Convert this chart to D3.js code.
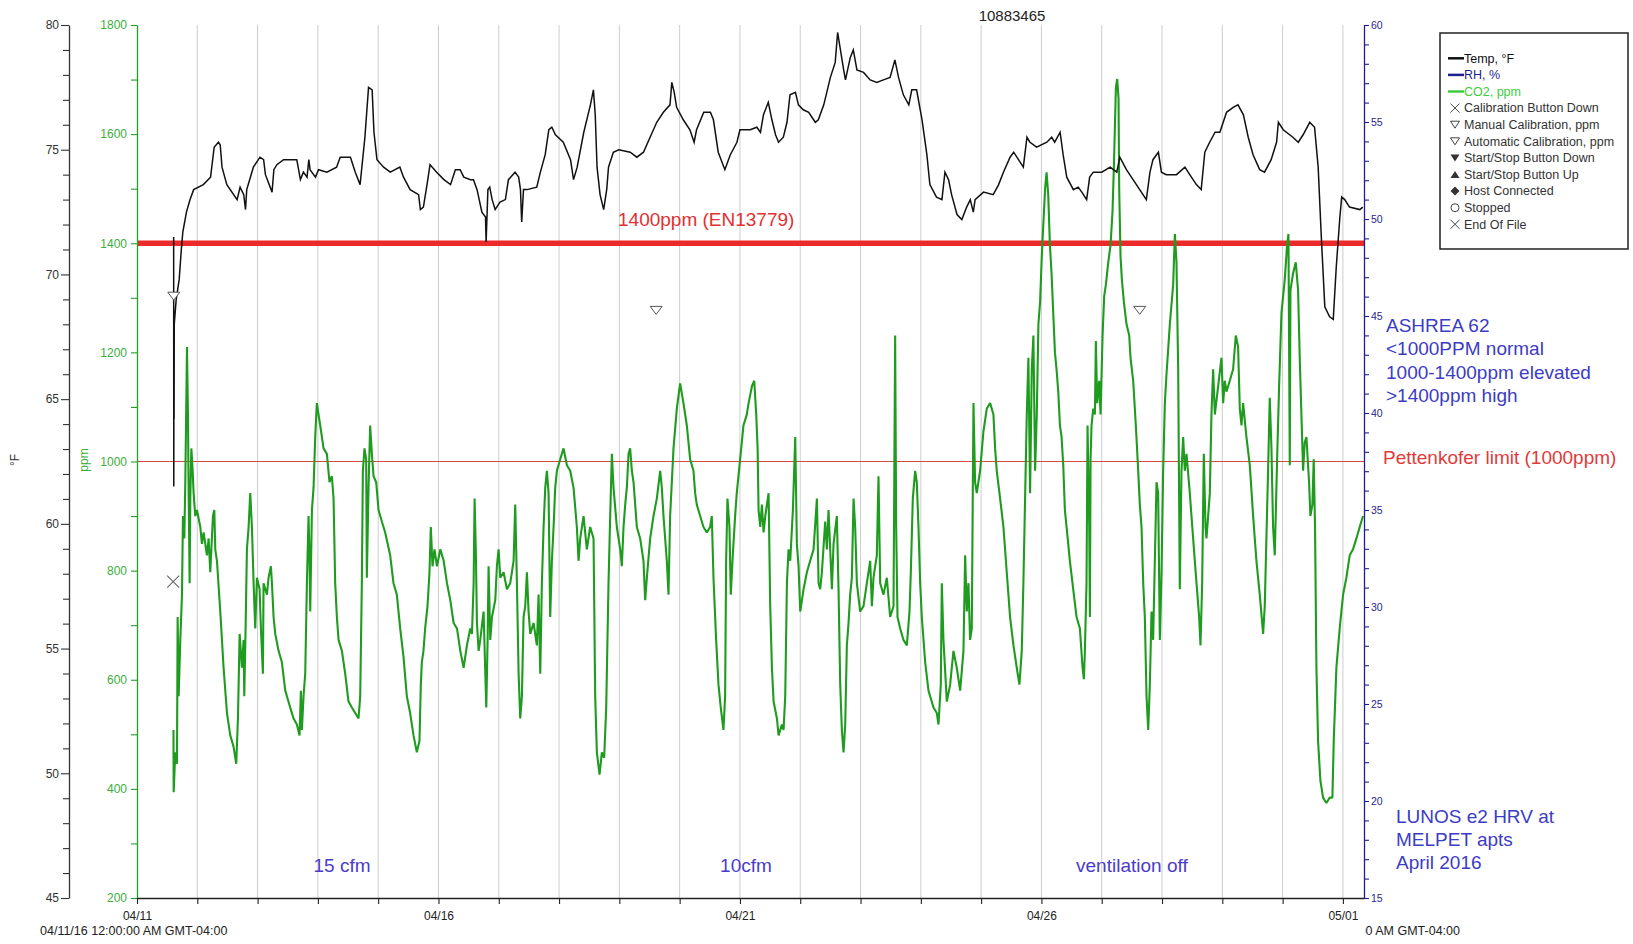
<!DOCTYPE html>
<html>
<head>
<meta charset="utf-8">
<script src="https://cdn.jsdelivr.net/npm/d3@7"></script>
<style>
  html, body { margin: 0; padding: 0; background: #fff; }
  svg { display: block; font-family: "Liberation Sans", Arial, Helvetica, sans-serif; }
</style>
</head>
<body>
<svg id="chart" width="1633" height="944"></svg>
<script>
// ---- logger data (time in days since 04/11/16 00:00) ----
const loggerSerial = "10883465";
const startDate = new Date(Date.UTC(2016, 3, 11, 0, 0, 0));
const endDay = 20.35;

// Temperature, °F
const tempReadings = [
  [0.608,71.5],[0.610,61.5],[0.613,68.0],[0.615,64.2],[0.618,68.0],[0.650,69.0],[0.700,69.8],[0.735,71.0],[0.760,71.7],[0.820,72.5],
  [0.880,73.0],[0.940,73.4],[1.10,73.6],[1.22,73.9],[1.28,75.1],[1.35,75.3],[1.38,75.2],[1.41,74.3],[1.49,73.6],[1.66,73.0],
  [1.71,73.5],[1.77,73.2],[1.80,72.6],[1.82,73.4],[1.93,74.3],[2.04,74.7],[2.10,74.6],[2.13,74.0],[2.24,73.3],[2.27,74.2],
  [2.32,74.4],[2.43,74.6],[2.65,74.6],[2.71,73.8],[2.76,74.1],[2.82,73.9],[2.85,74.6],[2.87,74.2],[2.96,73.9],[3.01,74.2],
  [3.15,74.1],[3.31,74.3],[3.37,74.7],[3.54,74.7],[3.62,74.1],[3.70,73.6],[3.78,75.5],[3.84,77.5],[3.90,77.4],[3.93,75.7],
  [3.98,74.6],[4.09,74.3],[4.20,74.1],[4.36,74.3],[4.42,73.9],[4.53,73.4],[4.67,73.2],[4.70,72.6],[4.75,72.7],[4.81,73.6],
  [4.86,74.4],[4.97,74.1],[5.09,73.8],[5.20,73.6],[5.28,74.2],[5.36,74.2],[5.42,73.9],[5.53,73.8],[5.58,73.8],[5.64,73.4],
  [5.72,72.5],[5.78,72.3],[5.79,71.3],[5.82,73.4],[5.85,73.5],[5.89,73.0],[5.94,72.6],[6.02,72.9],[6.11,73.0],[6.16,73.8],
  [6.27,74.1],[6.33,73.9],[6.36,73.4],[6.38,72.1],[6.41,73.4],[6.47,73.4],[6.63,73.5],[6.69,74.1],[6.77,74.8],[6.83,75.8],
  [6.88,75.9],[6.94,75.6],[7.07,75.3],[7.19,74.6],[7.24,73.8],[7.30,74.3],[7.41,75.7],[7.52,76.8],[7.57,77.4],[7.60,76.4],
  [7.63,74.3],[7.68,73.2],[7.74,72.6],[7.79,73.4],[7.82,74.3],[7.90,74.9],[7.99,75.0],[8.18,74.9],[8.29,74.7],[8.40,74.9],
  [8.51,75.5],[8.62,76.1],[8.73,76.5],[8.84,76.8],[8.87,77.7],[8.91,77.3],[8.95,76.7],[9.06,76.2],[9.17,75.8],[9.24,75.3],
  [9.28,75.8],[9.40,76.5],[9.51,76.5],[9.56,76.2],[9.64,74.9],[9.75,74.2],[9.84,74.8],[9.95,75.3],[10.00,75.8],[10.06,75.8],
  [10.17,75.8],[10.28,75.9],[10.34,75.7],[10.39,76.4],[10.47,76.9],[10.53,76.2],[10.59,75.6],[10.64,75.3],[10.72,75.5],[10.78,76.1],
  [10.83,77.2],[10.92,77.3],[10.97,76.8],[11.05,76.6],[11.14,76.5],[11.25,76.1],[11.30,76.2],[11.39,76.8],[11.50,77.9],[11.58,78.5],
  [11.62,79.7],[11.66,79.1],[11.72,78.2],[11.75,77.8],[11.83,78.7],[11.88,79.0],[11.94,78.2],[12.05,78.1],[12.16,77.8],[12.27,77.7],
  [12.38,77.8],[12.49,77.9],[12.57,78.6],[12.63,77.9],[12.71,77.2],[12.80,76.8],[12.85,77.4],[12.93,77.4],[13.02,76.2],[13.10,74.8],
  [13.15,73.6],[13.26,73.1],[13.35,73.0],[13.40,74.1],[13.46,73.8],[13.51,73.2],[13.60,72.4],[13.68,72.2],[13.76,72.7],[13.82,73.0],
  [13.87,72.5],[13.90,73.0],[14.04,73.3],[14.20,73.2],[14.29,73.6],[14.37,74.1],[14.48,74.7],[14.54,74.9],[14.62,74.6],[14.70,74.3],
  [14.76,75.5],[14.81,75.3],[14.92,75.1],[15.09,75.3],[15.17,75.5],[15.22,75.3],[15.31,75.7],[15.36,74.8],[15.42,73.9],[15.53,73.4],
  [15.61,73.5],[15.67,73.3],[15.75,73.0],[15.80,73.9],[15.86,74.1],[16.00,74.1],[16.14,74.3],[16.25,74.1],[16.30,74.7],[16.41,74.2],
  [16.52,73.8],[16.63,73.4],[16.74,73.0],[16.80,74.1],[16.85,74.6],[16.94,74.9],[16.99,74.1],[17.07,74.0],[17.24,74.0],[17.38,74.3],
  [17.46,74.0],[17.57,73.6],[17.65,73.4],[17.71,74.9],[17.79,75.3],[17.88,75.7],[17.96,75.7],[18.07,76.5],[18.18,76.7],[18.26,76.8],
  [18.35,76.4],[18.43,75.5],[18.51,74.8],[18.62,74.2],[18.70,74.1],[18.81,74.6],[18.90,75.3],[18.93,76.1],[19.01,75.8],[19.17,75.5],
  [19.26,75.3],[19.34,75.6],[19.45,76.1],[19.53,75.9],[19.59,74.3],[19.64,71.6],[19.70,68.7],[19.78,68.3],[19.84,68.2],[19.89,70.3],
  [19.95,72.3],[19.98,73.1],[20.03,73.0],[20.11,72.7],[20.28,72.6],[20.33,72.7]
];

// CO2, ppm
const co2Readings = [
  [0.605,508],[0.608,394],[0.635,467],[0.663,446],[0.674,715],[0.691,570],[0.718,673],[0.746,756],[0.762,900],[0.785,859],
  [0.801,962],[0.829,1210],[0.845,1086],[0.856,952],[0.873,777],[0.884,932],[0.901,1024],[0.923,983],[0.939,942],[0.967,900],
  [0.994,911],[1.050,880],[1.077,849],[1.105,870],[1.160,828],[1.188,859],[1.215,797],[1.260,900],[1.282,911],[1.298,839],
  [1.326,818],[1.381,725],[1.436,622],[1.492,539],[1.547,498],[1.602,477],[1.646,446],[1.674,529],[1.702,684],[1.740,622],
  [1.768,673],[1.779,570],[1.801,694],[1.823,839],[1.851,880],[1.878,942],[1.906,880],[1.934,777],[1.961,694],[1.989,787],
  [2.033,766],[2.055,694],[2.088,611],[2.099,777],[2.155,756],[2.182,787],[2.221,808],[2.238,777],[2.265,715],[2.293,684],
  [2.348,653],[2.403,632],[2.459,580],[2.541,549],[2.597,529],[2.652,518],[2.696,498],[2.718,580],[2.735,508],[2.762,570],
  [2.790,611],[2.818,777],[2.845,900],[2.862,818],[2.873,725],[2.901,911],[2.928,952],[2.956,1045],[2.983,1107],[3.011,1086],
  [3.039,1066],[3.094,1024],[3.149,1014],[3.193,962],[3.232,973],[3.260,932],[3.287,777],[3.315,715],[3.343,673],[3.398,653],
  [3.453,611],[3.508,560],[3.564,549],[3.619,539],[3.674,529],[3.702,570],[3.729,777],[3.746,983],[3.773,1024],[3.801,1004],
  [3.812,787],[3.840,952],[3.867,1066],[3.895,1014],[3.923,973],[3.967,962],[4.006,911],[4.061,890],[4.116,870],[4.199,828],
  [4.254,777],[4.309,756],[4.365,694],[4.420,642],[4.475,570],[4.530,539],[4.586,498],[4.641,467],[4.685,488],[4.707,591],
  [4.724,632],[4.751,653],[4.779,694],[4.818,735],[4.851,797],[4.873,880],[4.901,808],[4.934,839],
  [4.975,808],[5.030,839],[5.086,818],[5.141,777],[5.196,746],[5.251,704],[5.307,694],[5.362,653],[5.417,622],[5.472,663],
  [5.527,694],[5.555,684],[5.583,777],[5.599,932],[5.621,828],[5.638,704],[5.666,653],[5.693,673],[5.748,725],[5.793,549],
  [5.815,673],[5.831,808],[5.859,673],[5.887,715],[5.942,746],[5.969,808],[5.997,839],[6.025,787],[6.080,797],[6.135,766],
  [6.190,777],[6.246,818],[6.273,921],[6.301,777],[6.329,611],[6.356,529],[6.384,570],[6.411,715],[6.439,735],[6.467,797],
  [6.494,725],[6.522,684],[6.577,704],[6.632,663],[6.660,756],[6.688,611],[6.715,777],[6.743,880],[6.771,952],[6.798,983],
  [6.826,942],[6.853,715],[6.881,818],[6.909,880],[6.936,952],[6.964,983],[7.019,1004],[7.074,1024],[7.130,993],[7.185,983],
  [7.240,952],[7.295,880],[7.323,818],[7.351,859],[7.406,900],[7.461,839],[7.516,880],[7.572,859],[7.599,570],[7.627,467],
  [7.671,426],[7.710,467],[7.748,457],[7.782,549],[7.820,777],[7.848,900],[7.876,1014],[7.903,952],[7.958,880],[8.014,839],
  [8.041,808],[8.069,880],[8.097,921],[8.124,952],[8.152,1014],[8.179,1024],[8.207,983],[8.235,962],[8.290,880],[8.345,859],
  [8.400,818],[8.428,746],[8.456,787],[8.511,859],[8.566,900],[8.621,932],[8.677,983],[8.704,952],[8.732,900],[8.787,818],
  [8.815,756],[8.842,900],[8.898,1024],[8.953,1097],[9.008,1143],[9.063,1107],[9.119,1066],[9.174,1004],[9.229,983],[9.257,942],
  [9.284,921],[9.340,900],[9.395,880],[9.450,870],[9.505,880],[9.533,900],[9.561,787],[9.605,673],[9.644,591],[9.682,549],
  [9.726,508],[9.754,570],[9.771,818],[9.793,932],[9.826,880],[9.848,756],[9.881,828],[9.920,900],[9.947,942],[10.003,1004],
  [10.058,1066],[10.113,1086],
  [10.143,1107],[10.199,1138],[10.237,1148],[10.270,1086],[10.293,1024],[10.309,911],[10.337,880],[10.364,921],[10.392,870],[10.420,900],
  [10.447,921],[10.475,942],[10.502,735],[10.530,622],[10.558,560],[10.613,529],[10.641,498],[10.696,518],[10.723,508],[10.751,570],
  [10.779,777],[10.806,839],[10.834,818],[10.878,911],[10.917,1045],[10.944,849],[10.972,808],[11.000,725],[11.055,766],[11.110,797],
  [11.165,818],[11.221,839],[11.276,932],[11.304,777],[11.331,766],[11.359,797],[11.414,890],[11.442,839],[11.469,911],[11.525,766],
  [11.552,849],[11.607,900],[11.635,766],[11.663,591],[11.690,508],[11.718,467],[11.746,518],[11.773,663],[11.801,704],[11.828,756],
  [11.856,787],[11.884,932],[11.911,880],[11.939,777],[11.994,725],[12.049,735],[12.105,777],[12.160,818],[12.188,735],[12.215,787],
  [12.270,828],[12.298,973],[12.326,777],[12.381,756],[12.436,787],[12.491,715],[12.547,735],[12.574,1231],[12.591,880],[12.613,715],
  [12.657,694],[12.712,673],[12.768,663],[12.812,725],[12.834,797],[12.867,932],[12.906,983],[12.933,962],[12.961,880],[12.989,777],
  [13.016,715],[13.072,632],[13.127,580],[13.210,549],[13.265,539],[13.293,518],[13.331,591],[13.348,777],[13.375,673],[13.431,560],
  [13.486,591],[13.541,653],[13.596,622],[13.652,580],[13.707,653],[13.735,828],[13.762,725],[13.790,777],[13.817,673],[13.845,694],
  [13.873,1107],[13.900,962],[13.928,942],[13.983,983],[14.038,1055],[14.094,1097],[14.149,1107],[14.204,1086],[14.232,1024],[14.259,983],
  [14.315,932],[14.370,880],[14.425,797],[14.480,715],[14.536,663],[14.591,622],[14.635,591],[14.674,653],[14.701,777],[14.729,932],
  [14.757,1086],[14.784,1190],[14.812,942],[14.840,1169],[14.867,1231],[14.895,983],[14.923,1086],[14.950,1252],[14.978,1293],[15.006,1376],
  [15.033,1438],[15.061,1500],
  [15.085,1530],[15.113,1489],[15.141,1396],[15.168,1345],[15.196,1272],[15.224,1200],[15.251,1169],[15.279,1128],[15.307,1066],[15.334,1045],
  [15.362,993],[15.389,911],[15.417,880],[15.472,818],[15.527,766],[15.583,715],[15.638,694],[15.682,622],[15.704,601],[15.721,653],
  [15.748,777],[15.765,1066],[15.793,880],[15.804,715],[15.815,1004],[15.831,1066],[15.859,1097],[15.887,1086],[15.903,1221],[15.925,1107],
  [15.958,1148],[15.981,1086],[16.014,1231],[16.041,1303],[16.069,1324],[16.108,1365],[16.146,1396],[16.179,1458],[16.202,1541],[16.235,1685],
  [16.257,1701],[16.279,1665],[16.290,1499],[16.312,1376],[16.334,1334],[16.367,1293],[16.411,1252],[16.456,1231],[16.478,1190],[16.522,1148],
  [16.566,1066],[16.605,983],[16.632,921],[16.660,880],[16.688,777],[16.715,715],[16.743,570],[16.771,508],[16.798,591],[16.826,725],
  [16.853,673],[16.881,818],[16.909,962],[16.936,942],[16.964,673],[16.992,797],[17.019,983],[17.047,1107],[17.074,1159],[17.130,1252],
  [17.185,1324],[17.213,1417],[17.240,1365],[17.268,1169],[17.295,766],[17.323,983],[17.351,1045],[17.378,983],[17.406,1014],[17.461,942],
  [17.516,859],[17.572,777],[17.616,715],[17.638,663],[17.666,777],[17.693,1014],[17.721,880],[17.737,859],[17.765,900],[17.793,942],
  [17.820,1086],[17.848,1169],[17.876,1086],[17.931,1138],[17.986,1190],[18.014,1107],[18.041,1148],[18.069,1128],[18.124,1148],[18.179,1169],
  [18.224,1231],[18.262,1210],[18.290,1097],[18.318,1066],[18.345,1107],[18.400,1045],[18.456,993],[18.511,900],[18.566,818],[18.621,756],
  [18.677,684],[18.704,735],[18.759,983],[18.787,1117],[18.815,1024],[18.842,880],[18.870,828],[18.909,1004],[18.942,1138],[18.981,1272],
  [19.036,1334],[19.074,1396],[19.097,1417],[19.119,993],[19.130,1314],[19.174,1345],[19.218,1365],[19.257,1314],[19.284,1190],[19.312,1086],
  [19.340,983],[19.367,1035],[19.395,1045],[19.439,962],[19.461,900],[19.494,921],[19.516,1004],[19.538,880],[19.561,622],[19.588,488],
  [19.627,415],[19.671,384],[19.726,374],[19.782,384],[19.826,384],[19.848,488],[19.892,622],[19.947,694],[20.003,756],[20.058,787],
  [20.113,828],[20.168,839],[20.224,859],[20.279,880],[20.334,900]
];

// Logger events: [day, ppm]
const calibrationButtonDown = [[0.60, 780]];
const automaticCalibrations = [[0.61, 1303], [8.61, 1277], [16.63, 1277]];

// Reference limits, ppm
const en13779Limit = 1400;
const pettenkoferLimit = 1000;

// Axis ticks
const tempTicks = d3.range(45, 81, 1);
const ppmTicks = d3.range(200, 1801, 100);
const rhTicks = d3.range(15, 61, 1);
const dateLabelDays = [0, 5, 10, 15, 20];

// Legend entries
const legendLabels = ["Temp, °F", "RH, %", "CO2, ppm", "Calibration Button Down", "Manual Calibration, ppm",
  "Automatic Calibration, ppm", "Start/Stop Button Down", "Start/Stop Button Up", "Host Connected", "Stopped", "End Of File"];
const legendSymbols = ["line", "line", "line", "times", "triDownOpen", "triDownOpen", "triDownFilled", "triUpFilled", "diamond", "circle", "times"];

// Notes
const ashraeNote = ["ASHREA 62", "<1000PPM normal", "1000-1400ppm elevated", ">1400ppm high"];
const siteNote = ["LUNOS e2 HRV at", "MELPET apts", "April 2016"];
const phaseLabels = [[3.4, "15 cfm"], [10.1, "10cfm"], [16.5, "ventilation off"]];

// ---- drawing ----
const svg = d3.select("#chart");
const FONT = '"Liberation Sans", Arial, Helvetica, sans-serif';
const plotLeft = 137, plotRight = 1364, plotTop = 25, plotBottom = 898;
const dayToDate = d => new Date(startDate.getTime() + d * 864e5);

const x = d3.scaleUtc().domain([startDate, dayToDate(endDay)]).range([plotLeft, plotRight]);
const yTemp = d3.scaleLinear().domain([45, 80]).range([plotBottom, plotTop]);
const yPpm = d3.scaleLinear().domain([200, 1800]).range([plotBottom, plotTop]);
const yRh = d3.scaleLinear().domain([15, 60]).range([plotBottom, plotTop]);

const green = "#1f9c1f";
const navy = "#1f1f8f";

svg.append("rect").attr("width", 1633).attr("height", 944).attr("fill", "#fff");

// daily grid lines
const dayTicks = d3.utcDay.range(startDate, dayToDate(endDay));
svg.append("g").selectAll("line").data(dayTicks.slice(1)).join("line")
  .attr("x1", d => x(d)).attr("x2", d => x(d))
  .attr("y1", plotTop).attr("y2", plotBottom)
  .attr("stroke", "#cdcdcd").attr("stroke-width", 1);

// limit lines
svg.append("line")
  .attr("x1", plotLeft).attr("x2", plotRight)
  .attr("y1", yPpm(en13779Limit)).attr("y2", yPpm(en13779Limit))
  .attr("stroke", "#ec2a2a").attr("stroke-width", 5.5);
svg.append("line")
  .attr("x1", plotLeft).attr("x2", plotRight)
  .attr("y1", yPpm(pettenkoferLimit)).attr("y2", yPpm(pettenkoferLimit))
  .attr("stroke", "#d24a4a").attr("stroke-width", 1.2);

// CO2 series
svg.append("path").datum(co2Readings)
  .attr("fill", "none").attr("stroke", green).attr("stroke-width", 2.1)
  .attr("stroke-linejoin", "bevel")
  .attr("d", d3.line().x(d => x(dayToDate(d[0]))).y(d => yPpm(d[1])));

// Temperature series
svg.append("path").datum(tempReadings)
  .attr("fill", "none").attr("stroke", "#111").attr("stroke-width", 1.5)
  .attr("d", d3.line().x(d => x(dayToDate(d[0]))).y(d => yTemp(d[1])));

// event markers
const triDown = (cx, cy, w, h) => `M${cx - w / 2},${cy - h / 2}L${cx + w / 2},${cy - h / 2}L${cx},${cy + h / 2}Z`;
const triUp = (cx, cy, w, h) => `M${cx - w / 2},${cy + h / 2}L${cx + w / 2},${cy + h / 2}L${cx},${cy - h / 2}Z`;
const timesPath = (cx, cy, r) => `M${cx - r},${cy - r}L${cx + r},${cy + r}M${cx - r},${cy + r}L${cx + r},${cy - r}`;

svg.append("g").selectAll("path").data(automaticCalibrations).join("path")
  .attr("d", d => triDown(x(dayToDate(d[0])), yPpm(d[1]), 12, 8))
  .attr("fill", "#fff").attr("stroke", "#555").attr("stroke-width", 1);
svg.append("g").selectAll("path").data(calibrationButtonDown).join("path")
  .attr("d", d => timesPath(x(dayToDate(d[0])), yPpm(d[1]), 6))
  .attr("fill", "none").attr("stroke", "#666").attr("stroke-width", 1.1);

// ---- axes ----
function styleAxis(g, color, size) {
  g.attr("font-family", FONT);
  g.selectAll(".domain").attr("stroke", color).attr("stroke-width", 1.3);
  g.selectAll(".tick line").attr("stroke", color).attr("stroke-width", 1.1);
  g.selectAll(".tick text").attr("fill", color).attr("font-size", size);
}

// °F axis
const gTemp = svg.append("g").attr("transform", "translate(69,0)")
  .call(d3.axisLeft(yTemp).tickValues(tempTicks).tickSize(6).tickSizeOuter(0).tickPadding(4)
    .tickFormat(d => d % 5 === 0 ? d : ""));
styleAxis(gTemp, "#333", "12px");
gTemp.selectAll(".tick").filter(d => d % 5 === 0).select("line").attr("x2", -8);

// ppm axis
const gPpm = svg.append("g").attr("transform", `translate(${plotLeft},0)`)
  .call(d3.axisLeft(yPpm).tickValues(ppmTicks).tickSize(6).tickSizeOuter(0).tickPadding(4)
    .tickFormat(d => d % 200 === 0 ? d : ""));
styleAxis(gPpm, "#22a022", "12px");
gPpm.selectAll(".tick text").attr("fill", "#3cae3c");

// RH axis
const gRh = svg.append("g").attr("transform", `translate(${plotRight},0)`)
  .call(d3.axisRight(yRh).tickValues(rhTicks).tickSize(5).tickSizeOuter(0).tickPadding(2)
    .tickFormat(d => d % 5 === 0 ? d : ""));
styleAxis(gRh, navy, "10.5px");

// time axis
const fmtDate = d3.utcFormat("%m/%d");
const gX = svg.append("g").attr("transform", `translate(0,${plotBottom})`)
  .call(d3.axisBottom(x).tickValues(d3.utcDay.range(startDate, dayToDate(endDay))).tickSize(6).tickSizeOuter(0).tickPadding(7.5)
    .tickFormat((d, i) => dateLabelDays.includes(i) ? fmtDate(d) : ""));
styleAxis(gX, "#222", "12px");
gX.select(".domain").attr("stroke-width", 1.5);

// axis titles
svg.append("text").attr("transform", "translate(19,460) rotate(-90)")
  .attr("text-anchor", "middle").attr("font-size", "12px").attr("fill", "#333").text("°F");
svg.append("text").attr("transform", "translate(88,460) rotate(-90)")
  .attr("text-anchor", "middle").attr("font-size", "12px").attr("fill", "#3cae3c").text("ppm");

// start / end timestamps
svg.append("text").attr("x", 40).attr("y", 935).attr("font-size", "12.5px").attr("fill", "#222")
  .text("04/11/16 12:00:00 AM GMT-04:00");
svg.append("clipPath").attr("id", "endClip")
  .append("rect").attr("x", 1365).attr("y", 915).attr("width", 268).attr("height", 29);
svg.append("text").attr("clip-path", "url(#endClip)")
  .attr("x", 1460).attr("y", 935).attr("text-anchor", "end").attr("font-size", "12.5px").attr("fill", "#222")
  .text("05/01/16 08:00:00 AM GMT-04:00");

// title
svg.append("text").attr("x", 1012).attr("y", 21).attr("text-anchor", "middle")
  .attr("font-size", "15px").attr("fill", "#222").text(loggerSerial);

// ---- annotations ----
svg.append("text").attr("x", 618).attr("y", 226).attr("font-size", "19px").attr("fill", "#e23030")
  .text(`${en13779Limit}ppm (EN13779)`);
svg.append("text").attr("x", 1383).attr("y", 464).attr("font-size", "19px").attr("fill", "#e23a3a")
  .text(`Pettenkofer limit (${pettenkoferLimit}ppm)`);

svg.append("g").selectAll("text").data(ashraeNote).join("text")
  .attr("x", 1386).attr("y", (d, i) => 332 + i * 23.3)
  .attr("font-size", "19px").attr("fill", "#3c3cc4").text(d => d);

svg.append("g").selectAll("text").data(siteNote).join("text")
  .attr("x", 1396).attr("y", (d, i) => 823 + i * 23)
  .attr("font-size", "19px").attr("fill", "#3c3cc4").text(d => d);

svg.append("g").selectAll("text").data(phaseLabels).join("text")
  .attr("x", d => x(dayToDate(d[0]))).attr("y", 872).attr("text-anchor", "middle")
  .attr("font-size", "19px").attr("fill", "#4a3cc8").text(d => d[1]);

// ---- legend ----
const legend = svg.append("g");
legend.append("rect").attr("x", 1440).attr("y", 33).attr("width", 188).attr("height", 216)
  .attr("fill", "#fff").attr("stroke", "#222").attr("stroke-width", 1.5);
const lineColors = ["#111", navy, "#3ccc3c"];
const textColors = ["#111", navy, "#3ccc3c"];
legendLabels.forEach((label, i) => {
  const cy = 58.3 + i * 16.6;
  const kind = legendSymbols[i];
  let tx = 1464;
  if (kind === "line") {
    legend.append("line").attr("x1", 1448).attr("x2", 1464).attr("y1", cy).attr("y2", cy)
      .attr("stroke", lineColors[i]).attr("stroke-width", 2.5);
  } else if (kind === "times") {
    legend.append("path").attr("d", timesPath(1455, cy, 4.5)).attr("stroke", "#444").attr("stroke-width", 1).attr("fill", "none");
  } else if (kind === "triDownOpen") {
    legend.append("path").attr("d", triDown(1455, cy, 9, 7)).attr("fill", "#fff").attr("stroke", "#444").attr("stroke-width", 1);
  } else if (kind === "triDownFilled") {
    legend.append("path").attr("d", triDown(1455, cy, 9, 7)).attr("fill", "#333");
  } else if (kind === "triUpFilled") {
    legend.append("path").attr("d", triUp(1455, cy, 9, 7)).attr("fill", "#333");
  } else if (kind === "diamond") {
    legend.append("path").attr("d", `M1455,${cy - 4.5}L1459.5,${cy}L1455,${cy + 4.5}L1450.5,${cy}Z`).attr("fill", "#333");
  } else if (kind === "circle") {
    legend.append("circle").attr("cx", 1455).attr("cy", cy).attr("r", 4).attr("fill", "#fff").attr("stroke", "#444");
  }
  legend.append("text").attr("x", tx).attr("y", cy).attr("dy", "0.35em")
    .attr("font-size", "12.5px").attr("fill", textColors[i] || "#333").text(label);
});
</script>
</body>
</html>
